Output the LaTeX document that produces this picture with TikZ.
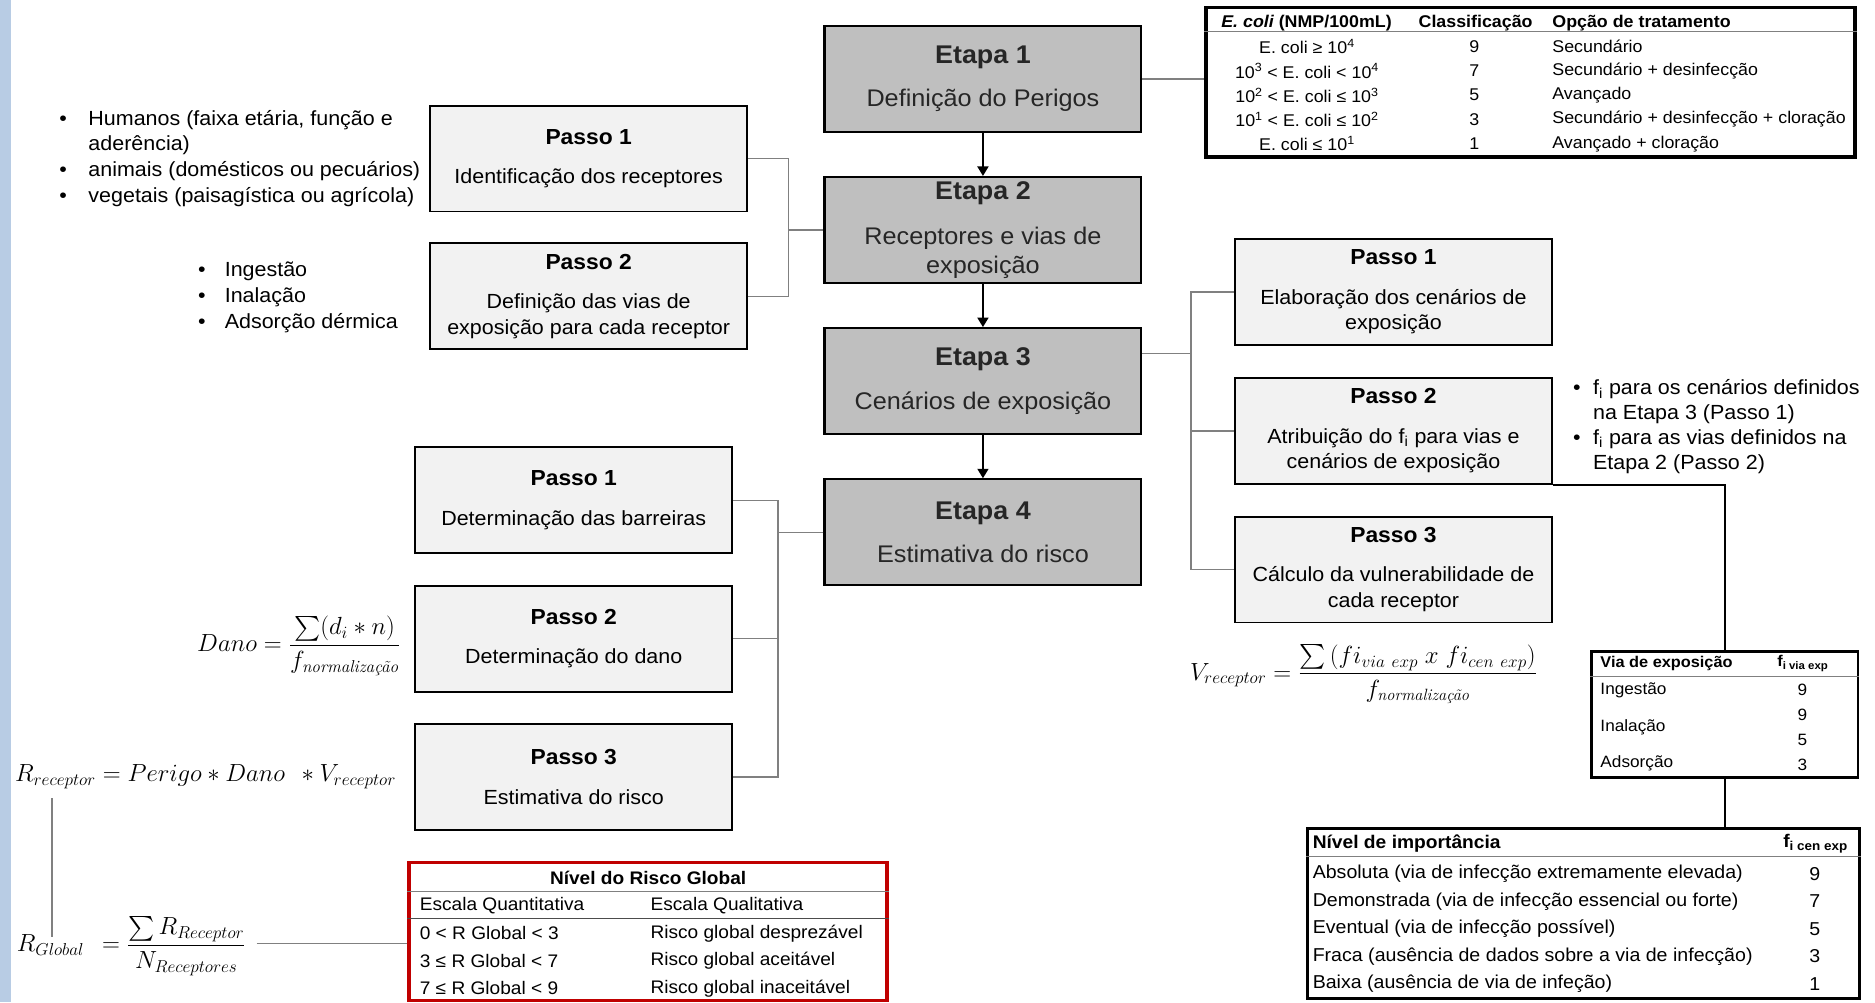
\documentclass[tikz,border=0pt]{standalone}
\usepackage{fontspec}
\setsansfont{Liberation Sans}[FakeStretch=1.05]
\renewcommand{\familydefault}{\sfdefault}
\usepackage{amsmath}
\usetikzlibrary{arrows.meta,positioning}

\definecolor{etapagray}{RGB}{191,191,191}
\definecolor{passogray}{RGB}{242,242,242}
\definecolor{linegray}{RGB}{128,128,128}
\definecolor{faixa}{RGB}{184,204,228}
\definecolor{riscored}{RGB}{192,0,0}
\definecolor{etapatxt}{RGB}{38,38,38}

\tikzset{
  etapa/.style={draw, line width=1.8pt, fill=etapagray, text=etapatxt, minimum width=265pt, minimum height=88.6pt, inner sep=0pt, align=center, font=\fontsize{20.1}{24.3}\selectfont},
  passo/.style={draw, line width=1.6pt, fill=passogray, minimum width=265pt, minimum height=88.6pt, inner sep=0pt, align=center, font=\fontsize{17.1}{21.5}\selectfont},
  liga/.style={draw=linegray, line width=1.1pt},
  seta/.style={line width=2pt, -{Triangle[width=9pt,length=8pt]}},
  elo/.style={line width=1.6pt},
  tabela/.style={draw, line width=2.4pt, inner sep=0pt},
  tabline/.style={draw=linegray, line width=1.1pt},
  lista/.style={anchor=west, inner sep=0pt, font=\fontsize{17.1}{21.5}\selectfont},
  formula/.style={inner sep=0pt, font=\fontsize{19.5}{22}\selectfont},
}
\newcommand{\tit}[1]{{\fontsize{21.4}{24.3}\selectfont\bfseries #1}}
\newcommand{\ptit}[1]{{\fontsize{18.2}{21.5}\selectfont\bfseries #1}}
\newcommand{\normw}{\text{\rmfamily\itshape normalização}}

\begin{document}
\begin{tikzpicture}[x=1pt,y=-1pt]
\useasboundingbox (0,0) rectangle (1568,838);
\fill[faixa] (0,0) rectangle (9,838);

% etapas
\node[etapa] (e1) at (822,66) {\tit{Etapa 1}\\[12pt] Definição do Perigos};
\node[etapa, below=36pt of e1] (e2) {\tit{Etapa 2}\\[12.8pt] Receptores e vias de\\ exposição};
\node[etapa, below=36pt of e2] (e3) {\tit{Etapa 3}\\[12pt] Cenários de exposição};
\node[etapa, below=36pt of e3] (e4) {\tit{Etapa 4}\\[12pt] Estimativa do risco};
\draw[seta] (e1.south) -- (e2.north);
\draw[seta] (e2.south) -- (e3.north);
\draw[seta] (e3.south) -- (e4.north);

% passos da etapa 2
\node[passo] (a1) at (492.3,132.6) {\ptit{Passo 1}\\[11.4pt] Identificação dos receptores};
\node[passo, below=24.9pt of a1] (a2) {\ptit{Passo 2}\\[11.4pt] Definição das vias de\\ exposição para cada receptor};
\coordinate (b1) at (659.2,0);
\draw[liga] (a1.east) -| (b1 |- a2.east) -- (a2.east);
\draw[liga] (b1 |- e2.west) -- (e2.west);

\node[lista] (recep) at (49.5,132.6) {\begin{tabular}{@{}l@{\hspace{18pt}}l@{}}
\textbullet & Humanos (faixa etária, função e\\
 & aderência)\\
\textbullet & animais (domésticos ou pecuários)\\
\textbullet & vegetais (paisagística ou agrícola)
\end{tabular}};
\node[lista] (vias) at (165.5,248.7) {\begin{tabular}{@{}l@{\hspace{16pt}}l@{}}
\textbullet & Ingestão\\
\textbullet & Inalação\\
\textbullet & Adsorção dérmica
\end{tabular}};

% passos da etapa 3
\node[passo] (r1) at (1165.3,244.3) {\ptit{Passo 1}\\[11.4pt] Elaboração dos cenários de\\ exposição};
\node[passo, below=25.8pt of r1] (r2) {\ptit{Passo 2}\\[11.4pt] Atribuição do f\textsubscript{i} para vias e\\ cenários de exposição};
\node[passo, below=25.8pt of r2] (r3) {\ptit{Passo 3}\\[11.4pt] Cálculo da vulnerabilidade de\\ cada receptor};
\coordinate (b2) at (995.9,0);
\draw[liga] (r1.west) -| (b2 |- r3.west) -- (r3.west);
\draw[liga] (r2.west) -- (r2.west -| b2);
\draw[liga] ([yshift=23pt]e3.east) -- ([yshift=23pt]e3.east -| b2);

\node[lista, font=\fontsize{17.1}{20.7}\selectfont] (fatores) at (1315.3,357.2) {\begin{tabular}{@{}l@{\hspace{10.5pt}}l@{}}
\textbullet & f\textsubscript{i} para os cenários definidos\\
 & na Etapa 3 (Passo 1)\\
\textbullet & f\textsubscript{i} para as vias definidos na\\
 & Etapa 2 (Passo 2)
\end{tabular}};

% passos da etapa 4
\node[passo] (l1) at (479.8,418.4) {\ptit{Passo 1}\\[11.4pt] Determinação das barreiras};
\node[passo, below=25.5pt of l1] (l2) {\ptit{Passo 2}\\[11.4pt] Determinação do dano};
\node[passo, below=25.5pt of l2] (l3) {\ptit{Passo 3}\\[11.4pt] Estimativa do risco};
\coordinate (b3) at (650.7,0);
\draw[liga] (l1.east) -| (b3 |- l3.east) -- (l3.east);
\draw[liga] (l2.east) -- (l2.east -| b3);
\draw[liga] (e4.west) -- (e4.west -| b3);

% tabela E. coli
\node[tabela, line width=3pt, minimum width=542.9pt, minimum height=125.4pt] (ecoli) at (1279.85,68.8) {};
\draw[liga] (e1.east) -- (e1.east -| ecoli.west);
\draw[tabline] ([yshift=-21.8pt]ecoli.north west) -- ([yshift=-21.8pt]ecoli.north east);
\begin{scope}[every node/.style={inner sep=0pt, font=\fontsize{14.2}{16}\selectfont}]
\node at (1092.6,19) {\bfseries{\itshape E. coli} (NMP/100mL)};
\node at (1234,19) {\bfseries Classificação};
\node[anchor=west] at (1298,19) {\bfseries Opção de tratamento};
\foreach \cl/\nm/\op [count=\i] in {
  {E. coli ≥ 10\textsuperscript{4}}/9/Secundário,
  {10\textsuperscript{3} < E. coli < 10\textsuperscript{4}}/7/Secundário + desinfecção,
  {10\textsuperscript{2} < E. coli ≤ 10\textsuperscript{3}}/5/Avançado,
  {10\textsuperscript{1} < E. coli ≤ 10\textsuperscript{2}}/3/Secundário + desinfecção + cloração,
  {E. coli ≤ 10\textsuperscript{1}}/1/Avançado + cloração}{
  \node at (1093,{18.7+20.3*\i}) {\cl};
  \node at (1233,{18.7+20.3*\i}) {\nm};
  \node[anchor=west] at (1298,{18.7+20.3*\i}) {\op};
}
\end{scope}

% vias de exposicao
\node[tabela, minimum width=223.1pt, minimum height=105.4pt] (via) at (1442.25,597.6) {};
\draw[elo] (r2.south east) -| (via.north);
\draw[tabline] ([yshift=-22.3pt]via.north west) -- ([yshift=-22.3pt]via.north east);
\begin{scope}[every node/.style={inner sep=0pt, font=\fontsize{13.7}{16}\selectfont}]
\node[anchor=west, font=\fontsize{13}{15}\selectfont\bfseries] at (1338.2,554.7) {Via de exposição};
\node[anchor=west, font=\fontsize{13}{15}\selectfont\bfseries] at (1486.1,554.7) {f\textsubscript{i via exp}};
\node[anchor=west] at (1338.2,577) {Ingestão};
\node[anchor=west] at (1338.2,608.4) {Inalação};
\node[anchor=west] at (1338.2,638.3) {Adsorção};
\node at (1507.2,577) {9};
\node at (1507.2,597.9) {9};
\node at (1507.2,618.8) {5};
\node at (1507.2,639.5) {3};
\end{scope}

% nivel de importancia
\node[tabela, minimum width=461.2pt, minimum height=142.7pt] (niv) at (1324.2,763.95) {};
\draw[elo] (via.south) -- (via.south |- niv.north);
\draw[tabline] ([yshift=-25.1pt]niv.north west) -- ([yshift=-25.1pt]niv.north east);
\begin{scope}[every node/.style={inner sep=0pt, font=\fontsize{15.6}{18}\selectfont}]
\node[anchor=west, font=\fontsize{15.3}{18}\selectfont\bfseries] at (1097.6,705.7) {Nível de importância};
\node[anchor=west, font=\fontsize{15.3}{18}\selectfont\bfseries] at (1491.1,705.7) {f\textsubscript{i cen exp}};
\foreach \txt/\val [count=\i] in {
  Absoluta (via de infecção extremamente elevada)/9,
  Demonstrada (via de infecção essencial ou forte)/7,
  Eventual (via de infecção possível)/5,
  Fraca (ausência de dados sobre a via de infecção)/3,
  Baixa (ausência de via de infeção)/1}{
  \node[anchor=west] at (1097.6,{707.8+23*\i}) {\txt};
  \node at (1517.7,{707.8+23*\i}) {\val};
}
\end{scope}

% risco global
\node[tabela, draw=riscored, line width=3pt, minimum width=400.1pt, minimum height=115.2pt] (risco) at (541.95,778.9) {};
\draw[tabline] ([yshift=-25.7pt]risco.north west) -- ([yshift=-25.7pt]risco.north east);
\draw[tabline, draw=black!70] ([yshift=-48.5pt]risco.north west) -- ([yshift=-48.5pt]risco.north east);
\begin{scope}[every node/.style={inner sep=0pt, font=\fontsize{15.2}{18}\selectfont}]
\node[font=\fontsize{15.2}{18}\selectfont\bfseries] at (542,734.4) {Nível do Risco Global};
\node[anchor=west] at (350.9,757.6) {Escala Quantitativa};
\node[anchor=west] at (543.9,757.6) {Escala Qualitativa};
\foreach \q/\l [count=\i] in {
  0 < R Global < 3/Risco global desprezável,
  3 ≤ R Global < 7/Risco global aceitável,
  7 ≤ R Global < 9/Risco global inaceitável}{
  \node[anchor=west] at (350.9,{757.6+23*\i}) {\q};
  \node[anchor=west] at (543.9,{757.6+23*\i}) {\l};
}
\end{scope}

% formulas
\node[formula, anchor=east, font=\fontsize{20.5}{23}\selectfont] (dano) at (335,540) {$Dano = \dfrac{\sum(d_i * n)}{f_{\normw}}$};
\node[formula, anchor=west] (rrec) at (12.5,649.4) {$R_{receptor} = Perigo * Dano\;\, * V_{receptor}$};
\node[formula, anchor=west] (vrec) at (995,564) {$V_{receptor} = \dfrac{\sum\left(fi_{via\ exp}\ x\ fi_{cen\ exp}\right)}{f_{\normw}}$};
\node[formula, anchor=west] (rglob) at (14,791) {$R_{Global}\;\, = \dfrac{\sum R_{Receptor}}{N_{Receptores}}$};
\coordinate (rv1) at (43.6,667.5);
\coordinate (rv2) at (43.6,783.2);
\draw[liga] (rv1) -- (rv2);
\coordinate (rg) at (214.6,788.8);
\draw[liga] (rg) -- (rg -| risco.west);
\end{tikzpicture}
\end{document}
